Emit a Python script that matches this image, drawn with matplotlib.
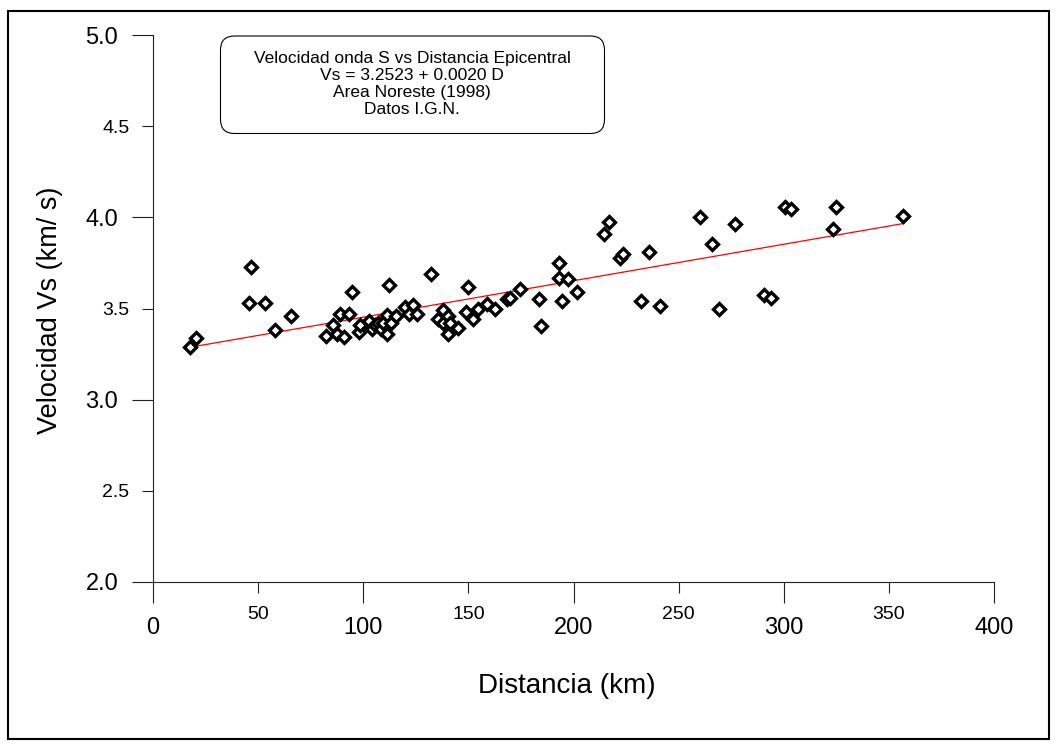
import matplotlib
matplotlib.use('Agg')
import matplotlib.pyplot as plt
from matplotlib.patches import FancyBboxPatch, Rectangle
from matplotlib.transforms import IdentityTransform
from matplotlib.ticker import FixedLocator, FixedFormatter

plt.rcParams['font.family'] = ['Liberation Sans', 'DejaVu Sans']

# ---- data ----
distancia = [17.6, 20.5, 45.7, 46.6, 53.3, 58.0, 65.6, 82.1, 85.8, 87.4,
             88.9, 91.0, 93.4, 94.5, 98.1, 98.5, 102.5, 104.0, 105.5, 107.2,
             108.5, 109.5, 111.1, 111.2, 112.4, 113.4, 115.6, 119.9, 121.9, 123.5,
             125.4, 132.2, 135.7, 137.8, 138.1, 140.5, 140.5, 141.3, 144.9, 148.9,
             150.0, 152.4, 154.7, 159.0, 162.7, 168.5, 169.8, 174.6, 183.6, 184.5,
             193.3, 193.3, 194.7, 197.2, 201.5, 214.7, 217.1, 222.1, 223.5, 232.0,
             235.8, 241.3, 260.2, 265.9, 269.1, 276.8, 290.8, 293.8, 300.6, 303.3,
             323.6, 324.7, 356.9]
velocidad = [3.29, 3.34, 3.53, 3.73, 3.53, 3.38, 3.46, 3.35, 3.41, 3.36,
             3.47, 3.345, 3.47, 3.59, 3.37, 3.41, 3.43, 3.385, 3.41, 3.42,
             3.39, 3.42, 3.36, 3.465, 3.63, 3.42, 3.46, 3.51, 3.47, 3.52,
             3.47, 3.69, 3.44, 3.49, 3.42, 3.46, 3.36, 3.42, 3.395, 3.48,
             3.62, 3.44, 3.50, 3.525, 3.50, 3.55, 3.556, 3.607, 3.55, 3.406,
             3.75, 3.666, 3.54, 3.66, 3.59, 3.907, 3.973, 3.775, 3.80, 3.54,
             3.81, 3.512, 4.003, 3.852, 3.497, 3.962, 3.572, 3.556, 4.058, 4.046,
             3.936, 4.058, 4.009]
intercepto = 3.2523
pendiente = 0.0020

x_major = [0, 100, 200, 300, 400]
x_minor = [50, 150, 250, 350]
y_major = [2.0, 3.0, 4.0, 5.0]
y_minor = [2.5, 3.5, 4.5]

caja_textos = ["Velocidad onda S vs Distancia Epicentral",
               "Vs = 3.2523 + 0.0020 D",
               "Area Noreste (1998)",
               "Datos I.G.N."]

# ---- figure ----
W, H = 1057, 747
fig = plt.figure(figsize=(W / 100, H / 100), dpi=100)
fig.patch.set_facecolor('white')
ax = fig.add_axes([153 / W, 1 - 582 / H, (994 - 153) / W, (582 - 35) / H])
ax.set_xlim(0, 400)
ax.set_ylim(2, 5)
for s in ['top', 'right']:
    ax.spines[s].set_visible(False)
for s in ['left', 'bottom']:
    ax.spines[s].set_linewidth(0.8)
    ax.spines[s].set_color('#222222')

line_x = [min(distancia), max(distancia)]
line_y = [intercepto + pendiente * v for v in line_x]
ax.plot(line_x, line_y, color='red', lw=0.9, zorder=2)
ax.plot(distancia, velocidad, ls='none', marker='D', ms=6.2,
        mfc='white', mec='black', mew=2.4, zorder=3, clip_on=False)

ax.xaxis.set_major_locator(FixedLocator(x_major))
ax.xaxis.set_minor_locator(FixedLocator(x_minor))
ax.xaxis.set_major_formatter(FixedFormatter([str(v) for v in x_major]))
ax.xaxis.set_minor_formatter(FixedFormatter([str(v) for v in x_minor]))
ax.yaxis.set_major_locator(FixedLocator(y_major))
ax.yaxis.set_minor_locator(FixedLocator(y_minor))
ax.yaxis.set_major_formatter(FixedFormatter(['%.1f' % v for v in y_major]))
ax.yaxis.set_minor_formatter(FixedFormatter(['%.1f' % v for v in y_minor]))

ax.tick_params(which='major', direction='out', length=15, width=0.8,
               labelsize=17, pad=10, color='#222222')
ax.tick_params(which='minor', direction='out', length=8, width=0.8,
               labelsize=14, pad=9, color='#222222')

fig.text(50 / W, 1 - 310 / H, 'Velocidad Vs (km/ s)', rotation=90,
         ha='center', va='center', fontsize=19.5)
fig.text(567 / W, 1 - 686 / H, 'Distancia (km)', ha='center', va='center',
         fontsize=20)

# rounded annotation box
box = FancyBboxPatch((220.5, H - 133.5), 384, 97.5,
                     boxstyle='round,pad=0,rounding_size=14',
                     transform=IdentityTransform(), fc='white', ec='black', lw=0.8)
fig.add_artist(box)
for i, t in enumerate(caja_textos):
    fig.text(412 / W, 1 - (58 + i * 17.2) / H, t, ha='center', va='center',
             fontsize=12.5)

# outer frame
frame = Rectangle((8, 8), 1041, 728, transform=IdentityTransform(),
                  fill=False, ec='black', lw=1.5)
fig.add_artist(frame)

fig.savefig('out.png', dpi=100)
